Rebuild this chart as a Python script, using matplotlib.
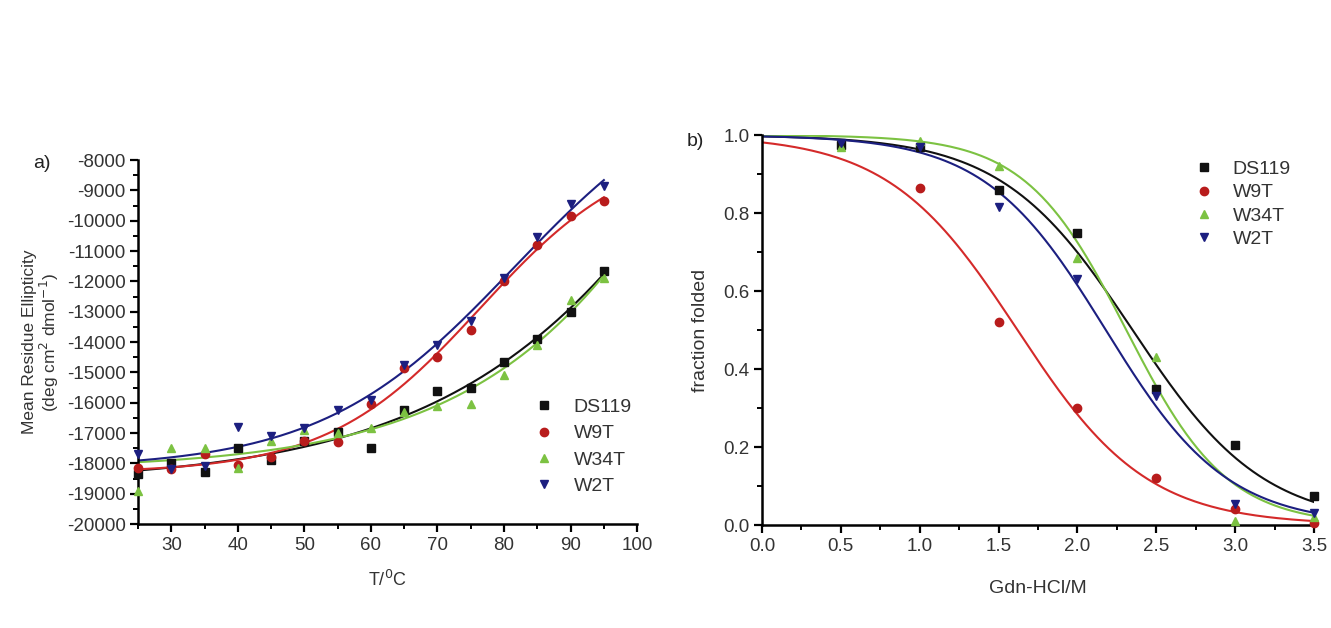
import matplotlib
matplotlib.use('Agg')
import matplotlib.pyplot as plt
import numpy as np
from matplotlib.ticker import MultipleLocator, FormatStrFormatter

plt.rcParams['font.family'] = ['Liberation Sans', 'DejaVu Sans']
plt.rcParams['axes.unicode_minus'] = False

# panel a) thermal melt
temp = [25, 30, 35, 40, 45, 50, 55, 60, 65, 70, 75, 80, 85, 90, 95]
ds119_t = [-18350, -18000, -18300, -17500, -17900, -17250, -16950, -17500, -16250, -15600, -15500, -14650, -13900, -13000, -11650]
w9t_t = [-18150, -18200, -17700, -18050, -17800, -17250, -17300, -16050, -14850, -14500, -13600, -12000, -10800, -9850, -9350]
w34t_t = [-18900, -17500, -17500, -18150, -17250, -16900, -17000, -16850, -16300, -16100, -16050, -15100, -14100, -12600, -11900]
w2t_t = [-17700, -18200, -18100, -16800, -17100, -16850, -16250, -15900, -14750, -14100, -13300, -11900, -10550, -9450, -8850]

# panel b) denaturant
gdn = [0.5, 1.0, 1.5, 2.0, 2.5, 3.0, 3.5]
ds119_g = [0.975, 0.97, 0.86, 0.75, 0.35, 0.205, 0.075]
w9t_g = [None, 0.865, 0.52, 0.30, 0.12, 0.04, 0.005]
w34t_g = [0.97, 0.985, 0.92, 0.685, 0.43, 0.01, 0.02]
w2t_g = [0.98, 0.97, 0.815, 0.63, 0.33, 0.055, 0.03]

names = ['DS119', 'W9T', 'W34T', 'W2T']
line_colors = ['#111111', '#d42a2a', '#7cc242', '#1c1f80']
marker_colors = ['#111111', '#b81c1c', '#7cc242', '#1c1f80']
markers = ['s', 'o', '^', 'v']


def fit_sigmoid(x, y):
    # least squares on a grid: 1/(1+exp((x-x0)/m))
    best = None
    for x0 in np.linspace(1.0, 3.5, 251):
        for m in np.linspace(0.1, 1.0, 181):
            r = np.sum((1 / (1 + np.exp((x - x0) / m)) - y) ** 2)
            if best is None or r < best[0]:
                best = (r, x0, m)
    return best[1], best[2]


def fit_melt(x, y):
    # lo + (hi-lo)*s(T), s = 1/(1+exp((tm-T)/w)); lo, hi by linear least squares
    x = np.asarray(x, float)
    y = np.asarray(y, float)
    best = None
    for tm in np.linspace(70, 130, 121):
        for w in np.linspace(5, 30, 51):
            s = 1 / (1 + np.exp((tm - x) / w))
            A = np.column_stack([1 - s, s])
            coef, *_ = np.linalg.lstsq(A, y, rcond=None)
            r = np.sum((A @ coef - y) ** 2)
            if best is None or r < best[0]:
                best = (r, tm, w, coef)
    _, tm, w, (lo, hi) = best
    return lambda t: lo + (hi - lo) / (1 + np.exp((tm - t) / w))


fig = plt.figure(figsize=(13.31, 6.28), dpi=100)
ax1 = fig.add_axes([0.1037, 0.1656, 0.375, 0.5795])
ax2 = fig.add_axes([0.5725, 0.164, 0.4147, 0.621])

xs = np.linspace(25, 95, 200)
for name, ys, lc, mc, mk in zip(names, [ds119_t, w9t_t, w34t_t, w2t_t], line_colors, marker_colors, markers):
    f = fit_melt(temp, ys)
    ax1.plot(xs, f(xs), color=lc, lw=1.5, zorder=2)
    ax1.plot(temp, ys, linestyle='none', marker=mk, color=mc, ms=6, label=name, zorder=3,
             clip_on=False)

xg = np.linspace(0, 3.5, 200)
for name, ys, lc, mc, mk in zip(names, [ds119_g, w9t_g, w34t_g, w2t_g], line_colors, marker_colors, markers):
    x = np.array([g for g, v in zip(gdn, ys) if v is not None])
    y = np.array([v for v in ys if v is not None])
    x0, m = fit_sigmoid(x, y)
    ax2.plot(xg, 1 / (1 + np.exp((xg - x0) / m)), color=lc, lw=1.5, zorder=2)
    ax2.plot(x, y, linestyle='none', marker=mk, color=mc, ms=6, label=name, zorder=3,
             clip_on=False)

for ax in (ax1, ax2):
    for s in ('top', 'right'):
        ax.spines[s].set_visible(False)
    for s in ('left', 'bottom'):
        ax.spines[s].set_linewidth(1.8)
    ax.tick_params(which='major', direction='out', length=6, width=1.6, labelsize=13.5,
                   labelcolor='#333333', pad=3)
    ax.tick_params(which='minor', direction='out', length=3.5, width=1.4)

ax1.set_xlim(25, 100)
ax1.set_ylim(-20000, -8000)
ax1.xaxis.set_minor_locator(MultipleLocator(5))
ax1.yaxis.set_major_locator(MultipleLocator(1000))
ax1.yaxis.set_minor_locator(MultipleLocator(500))
ax1.set_xticks([30, 40, 50, 60, 70, 80, 90, 100])
ax1.set_xlabel('T/$^0$C', fontsize=13, color='#333333', labelpad=12)
ax1.set_ylabel('Mean Residue Ellipticity\n(deg cm$^2$ dmol$^{-1}$)', fontsize=12.5,
               color='#333333', labelpad=4, linespacing=1.05)
ax1.legend(frameon=False, fontsize=14, handletextpad=1.0, labelspacing=0.45,
           handlelength=1.0, labelcolor='#333333', loc='lower right',
           bbox_to_anchor=(1.024, 0.031))
fig.text(0.025, 0.74, 'a)', fontsize=14, color='#222222', va='center')

ax2.set_xlim(0, 3.5)
ax2.set_ylim(0, 1.0)
ax2.xaxis.set_major_locator(MultipleLocator(0.5))
ax2.xaxis.set_minor_locator(MultipleLocator(0.25))
ax2.yaxis.set_major_locator(MultipleLocator(0.2))
ax2.yaxis.set_minor_locator(MultipleLocator(0.1))
ax2.xaxis.set_major_formatter(FormatStrFormatter('%.1f'))
ax2.yaxis.set_major_formatter(FormatStrFormatter('%.1f'))
ax2.set_xlabel('Gdn-HCl/M', fontsize=14, color='#333333', labelpad=18)
ax2.set_ylabel('fraction folded', fontsize=14, color='#333333', labelpad=10)
ax2.legend(frameon=False, fontsize=14, handletextpad=1.0, labelspacing=0.3,
           handlelength=1.0, labelcolor='#333333', loc='upper right',
           bbox_to_anchor=(0.99, 0.98))
fig.text(0.516, 0.775, 'b)', fontsize=14, color='#222222', va='center')

fig.savefig('out.png', dpi=100)
